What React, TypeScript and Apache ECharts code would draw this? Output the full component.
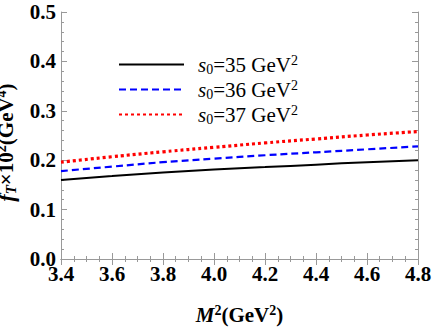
import React, { useEffect, useRef } from "react";
import * as echarts from "echarts";

const xValues = [3.4, 3.6, 3.8, 4.0, 4.2, 4.4, 4.6, 4.8];
const s35 = [0.160, 0.168, 0.175, 0.181, 0.186, 0.191, 0.196, 0.200];
const s36 = [0.178, 0.187, 0.196, 0.203, 0.210, 0.216, 0.222, 0.228];
const s37 = [0.196, 0.207, 0.217, 0.226, 0.235, 0.243, 0.251, 0.258];
const seriesNames = ["s35", "s36", "s37"];
const legendValues = ["35", "36", "37"];

const FONT = "Liberation Serif";
const FRAME = "#999999";

export default function App() {
  const ref = useRef<HTMLDivElement>(null);
  useEffect(() => {
    if (!ref.current) return;
    const chart = echarts.init(ref.current, null, { renderer: "svg" });
    const pairs = (ys: number[]) => xValues.map((x, i) => [x, ys[i]]);
    const xRich = {
      it: { fontFamily: FONT, fontStyle: "italic", fontWeight: "bold", fontSize: 21, color: "#000", lineHeight: 24 },
      b: { fontFamily: FONT, fontWeight: "bold", fontSize: 21, color: "#000", lineHeight: 24 },
      sup: { fontFamily: FONT, fontWeight: "bold", fontSize: 14, color: "#000", padding: [0, 0, 10, 0], lineHeight: 24 },
    };
    const yRich = {
      it: { fontFamily: FONT, fontStyle: "italic", fontWeight: "bold", fontSize: 22, color: "#000", lineHeight: 24 },
      b: { fontFamily: FONT, fontWeight: "bold", fontSize: 21, color: "#000", lineHeight: 24 },
      sup: { fontFamily: FONT, fontWeight: "bold", fontSize: 14, color: "#000", padding: [0, 0, 10, 0], lineHeight: 24 },
      sub: { fontFamily: FONT, fontStyle: "italic", fontWeight: "bold", fontSize: 15, color: "#000", padding: [10, 0, 0, 0], lineHeight: 24 },
    };
    const xAxisCommon = {
      type: "value",
      min: 3.4,
      max: 4.8,
      interval: 0.2,
      axisLine: { show: true, lineStyle: { color: FRAME, width: 1 } },
      axisTick: { show: true, inside: true, length: 6, lineStyle: { color: FRAME } },
      minorTick: { show: true, splitNumber: 4, length: 3, lineStyle: { color: FRAME } },
      splitLine: { show: false },
    };
    const yAxisCommon = {
      type: "value",
      min: 0,
      max: 0.5,
      interval: 0.1,
      axisLine: { show: true, lineStyle: { color: FRAME, width: 1 } },
      axisTick: { show: true, inside: true, length: 6, lineStyle: { color: FRAME } },
      minorTick: { show: true, splitNumber: 5, length: 3, lineStyle: { color: FRAME } },
      splitLine: { show: false },
    };
    const lineStyles = [
      { color: "#000000", width: 2, type: "solid" },
      { color: "#0000ff", width: 2.2, type: [7, 4] },
      { color: "#ff0000", width: 3.2, type: [3, 3] },
    ];
    const data = [s35, s36, s37];
    chart.setOption({
      animation: false,
      backgroundColor: "#ffffff",
      textStyle: { fontFamily: FONT },
      grid: { left: 61, right: 18, top: 12, bottom: 68, outerBoundsMode: "none", containLabel: false },
      xAxis: [
        {
          ...xAxisCommon,
          position: "bottom",
          axisLabel: {
            show: true,
            fontFamily: FONT,
            fontWeight: "bold",
            fontSize: 21,
            color: "#000",
            margin: 4,
            formatter: (v: number) => v.toFixed(1),
          },
          name: "{it|M}{sup|2}{b|(GeV}{sup|2}{b|)}",
          nameLocation: "middle",
          nameGap: 44,
          nameTextStyle: { fontFamily: FONT, rich: xRich },
        },
        { ...xAxisCommon, position: "top", axisLabel: { show: false } },
      ],
      yAxis: [
        {
          ...yAxisCommon,
          position: "left",
          axisLabel: {
            show: true,
            fontFamily: FONT,
            fontWeight: "bold",
            fontSize: 21,
            color: "#000",
            margin: 5,
            formatter: (v: number) => v.toFixed(1),
          },
          name: "{it|f}{sub|T}{b|×10}{sup|2}{b|(GeV}{sup|4}{b|)}",
          nameLocation: "middle",
          nameRotate: 90,
          nameGap: 42,
          nameTextStyle: { fontFamily: FONT, rich: yRich, padding: [0, 14, 0, 0] },
        },
        { ...yAxisCommon, position: "right", axisLabel: { show: false } },
      ],
      legend: {
        orient: "vertical",
        left: 113,
        top: 48,
        itemWidth: 65,
        itemHeight: 14,
        itemGap: 2,
        itemStyle: { opacity: 0 },
        data: seriesNames,
        formatter: (name: string) => {
          const idx = seriesNames.indexOf(name);
          return `{s|s}{sub|0}{t|=${legendValues[idx]} GeV}{sup|2}`;
        },
        textStyle: {
          fontFamily: FONT,
          padding: [0, 0, 0, 9],
          rich: {
            s: { fontFamily: FONT, fontStyle: "italic", fontSize: 21, color: "#000", lineHeight: 20 },
            sub: { fontFamily: FONT, fontSize: 14, color: "#000", padding: [9, 0, 0, 0], lineHeight: 20 },
            t: { fontFamily: FONT, fontSize: 21, color: "#000", lineHeight: 20 },
            sup: { fontFamily: FONT, fontSize: 14, color: "#000", padding: [0, 0, 9, 0], lineHeight: 20 },
          },
        },
      },
      series: data.map((ys, i) => ({
        name: seriesNames[i],
        type: "line",
        xAxisIndex: 0,
        yAxisIndex: 0,
        data: pairs(ys),
        smooth: true,
        symbol: "none",
        lineStyle: lineStyles[i],
        itemStyle: { color: lineStyles[i].color },
      })),
    });
    return () => chart.dispose();
  }, []);
  return (
    <div
      ref={ref}
      style={{ position: "fixed", left: 0, top: 0, width: 436, height: 327, background: "#fff" }}
    />
  );
}
